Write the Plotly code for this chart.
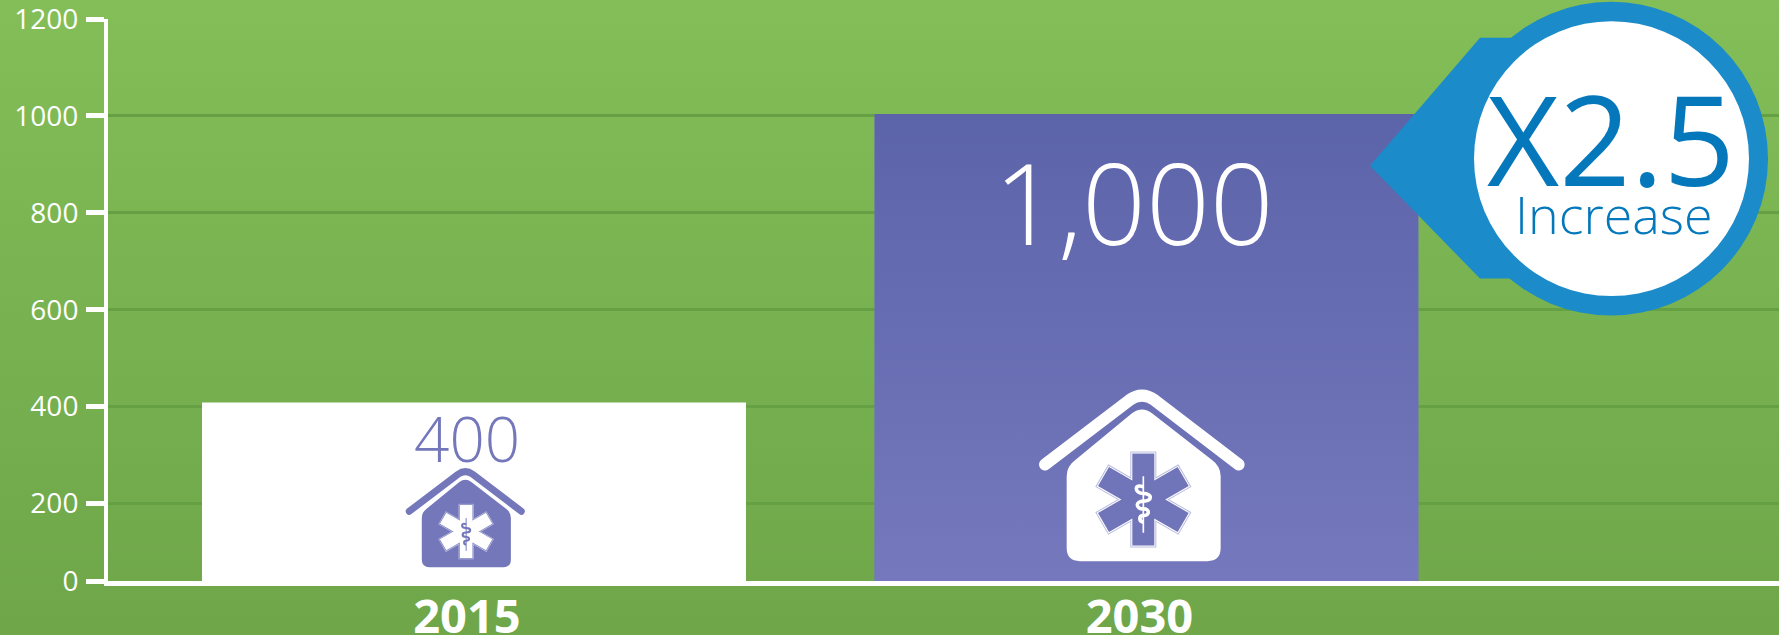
import base64
import plotly.graph_objects as go

# --- data ---
years = [2015, 2030]
values = [400, 1000]
year_labels = ["2015", "2030"]
value_labels = ["400", "1,000"]
y_tick_vals = [40, 200, 400, 600, 800, 1000, 1200]   # the drawn "0" tick sits on the raised baseline
y_tick_text = ["0", "200", "400", "600", "800", "1000", "1200"]
callout_big = "X2.5"
callout_small = "Increase"

W, H = 1779, 635
L, T, B = 108, 19.3, 581.5
FONT = "Open Sans"
BAR_TOP_FIX = [4, 2]  # px the reference bars rise above their gridline

x_range = [2006.836, 2044.11]
y_range = [40, 1200]
px_per_year = (W - L) / (x_range[1] - x_range[0])
px_per_unit = (B - T) / (y_range[1] - y_range[0])


def px(xp):
    return (xp - L) / (W - L)


def py(yp):
    return (B - yp) / (B - T)


def uri(svg):
    return "data:image/svg+xml;base64," + base64.b64encode(svg.encode()).decode()


def gradient(top, bottom):
    return uri(
        f'<svg xmlns="http://www.w3.org/2000/svg" width="100" height="100" viewBox="0 0 100 100" preserveAspectRatio="none">'
        f'<defs><linearGradient id="g" x1="0" y1="0" x2="0" y2="1"><stop offset="0" stop-color="{top}"/>'
        f'<stop offset="1" stop-color="{bottom}"/></linearGradient></defs>'
        f'<rect width="100" height="100" fill="url(#g)"/></svg>'
    )


def icon(fg, bg, rim):
    cx, cy = 400, 390
    arms = [0, 60, -60]
    def rects(grow, fill):
        return "".join(
            f'<rect x="{367-grow}" y="{252-grow}" width="{66+2*grow}" height="{276+2*grow}" fill="{fill}" '
            f'transform="rotate({a} {cx} {cy})"/>' for a in arms)
    snake = ('M400 352 C372 340,372 372,400 372 C428 372,428 395,400 395 C376 395,376 418,400 418 '
             'C420 418,420 438,400 438 C386 438,386 456,400 458')
    return uri(
        '<svg xmlns="http://www.w3.org/2000/svg" width="840" height="660" viewBox="0 0 840 660">'
        f'<path d="M105 285 L358 92 Q396 65 434 92 L686 285" fill="none" stroke="{fg}" stroke-width="36" stroke-linecap="round" stroke-linejoin="round"/>'
        f'<path d="M170 320 Q170 290 195 272 L365 132 Q396 108 427 132 L607 272 Q632 290 632 320 L632 535 Q632 575 592 575 L210 575 Q170 575 170 535 Z" fill="{fg}"/>'
        + rects(6, rim) + rects(3, fg) + rects(0, bg) +
        f'<path d="M400 320 L400 490" stroke="{fg}" stroke-width="5" fill="none"/>'
        f'<path d="{snake}" stroke="{fg}" stroke-width="11" fill="none"/>'
        '</svg>'
    )


callout_svg = uri(
    '<svg xmlns="http://www.w3.org/2000/svg" width="439" height="330" viewBox="1340 0 439 330">'
    '<polygon points="1370,166 1480,38 1530,38 1530,279 1480,279" fill="#1B8BC9"/>'
    '<circle cx="1611" cy="159" r="157" fill="#1B8BC9"/>'
    '<circle cx="1611.5" cy="159" r="137.5" fill="#FFFFFF"/></svg>'
)

bar_px = [544 - BAR_TOP_FIX[0] * 2, 544 - BAR_TOP_FIX[1] * 2]

fig = go.Figure(
    go.Bar(
        x=years,
        y=values,
        width=[p / px_per_year for p in bar_px],
        marker=dict(
            color=["#FFFFFF", "#7578BD"],
            line=dict(color=["#FFFFFF", "#7578BD"], width=[2 * f for f in BAR_TOP_FIX]),
        ),
        hoverinfo="skip",
    )
)

bar2_half = 544 / px_per_year / 2
bar2_top = values[1] + BAR_TOP_FIX[1] / px_per_unit
images = [
    dict(source=gradient("#83BE58", "#6EA649"), xref="paper", yref="paper", x=px(0), y=py(0),
         sizex=W / (W - L), sizey=H / (B - T), sizing="stretch", xanchor="left", yanchor="top", layer="below"),
    dict(source=gradient("#5C64A9", "#7578BD"), xref="x", yref="y", x=years[1] - bar2_half, y=bar2_top,
         sizex=2 * bar2_half, sizey=bar2_top - y_range[0], sizing="stretch",
         xanchor="left", yanchor="top", layer="above"),
    dict(source=icon("#FFFFFF", "#7074B8", "#B9BBDF"), xref="paper", yref="paper", x=px(1010), y=py(370),
         sizex=280 / (W - L), sizey=220 / (B - T), sizing="stretch", xanchor="left", yanchor="top", layer="above"),
    dict(source=icon("#7478BB", "#FFFFFF", "#C5C7E4"), xref="paper", yref="paper", x=px(389), y=py(457),
         sizex=162 / (W - L), sizey=127 / (B - T), sizing="stretch", xanchor="left", yanchor="top", layer="above"),
    dict(source=callout_svg, xref="paper", yref="paper", x=px(1340), y=py(0),
         sizex=439 / (W - L), sizey=330 / (B - T), sizing="stretch", xanchor="left", yanchor="top", layer="above"),
]


def note(text, xc, yc, size, color, weight=300):
    return dict(text=text, xref="paper", yref="paper", x=px(xc), y=py(yc), showarrow=False,
                xanchor="center", yanchor="middle",
                font=dict(family=FONT, size=size, color=color, weight=weight))


annotations = [
    note(value_labels[0], 467, 438, 62, "#7478BB"),
    note(value_labels[1], 1134, 202, 112, "#FFFFFF"),
    note(callout_big, 1611, 138, 125, "#0578BB", 400),
    note(callout_small, 1614, 214, 52, "#0578BB"),
]

fig.update_layout(
    width=W, height=H,
    margin=dict(l=L, r=0, t=T, b=H - B, pad=0),
    paper_bgcolor="#6EA649",
    plot_bgcolor="rgba(0,0,0,0)",
    showlegend=False,
    images=images,
    annotations=annotations,
    xaxis=dict(
        automargin=False,
        range=x_range, tickmode="array", tickvals=years, ticktext=year_labels,
        showgrid=False, zeroline=False, showline=True, linecolor="#FFFFFF", linewidth=5,
        ticks="", ticklabelshift=-7, ticklabelstandoff=-9, ticklabeloverflow="allow",
        tickfont=dict(family=FONT, size=47, color="#FFFFFF", weight=700),
    ),
    yaxis=dict(
        automargin=False,
        range=y_range, tickmode="array", tickvals=y_tick_vals, ticktext=y_tick_text,
        showgrid=True, gridcolor="#66A045", gridwidth=2.5, zeroline=False,
        showline=True, linecolor="#FFFFFF", linewidth=4,
        ticks="outside", ticklen=18, tickwidth=5, tickcolor="#FFFFFF", ticklabelstandoff=2,
        ticklabeloverflow="allow",
        tickfont=dict(family=FONT, size=28, color="#FFFFFF", weight=400),
    ),
)

fig.write_html(
    "out.html",
    config=dict(displayModeBar=False),
    post_script="document.body.style.margin='0';document.body.style.overflow='hidden';",
)
